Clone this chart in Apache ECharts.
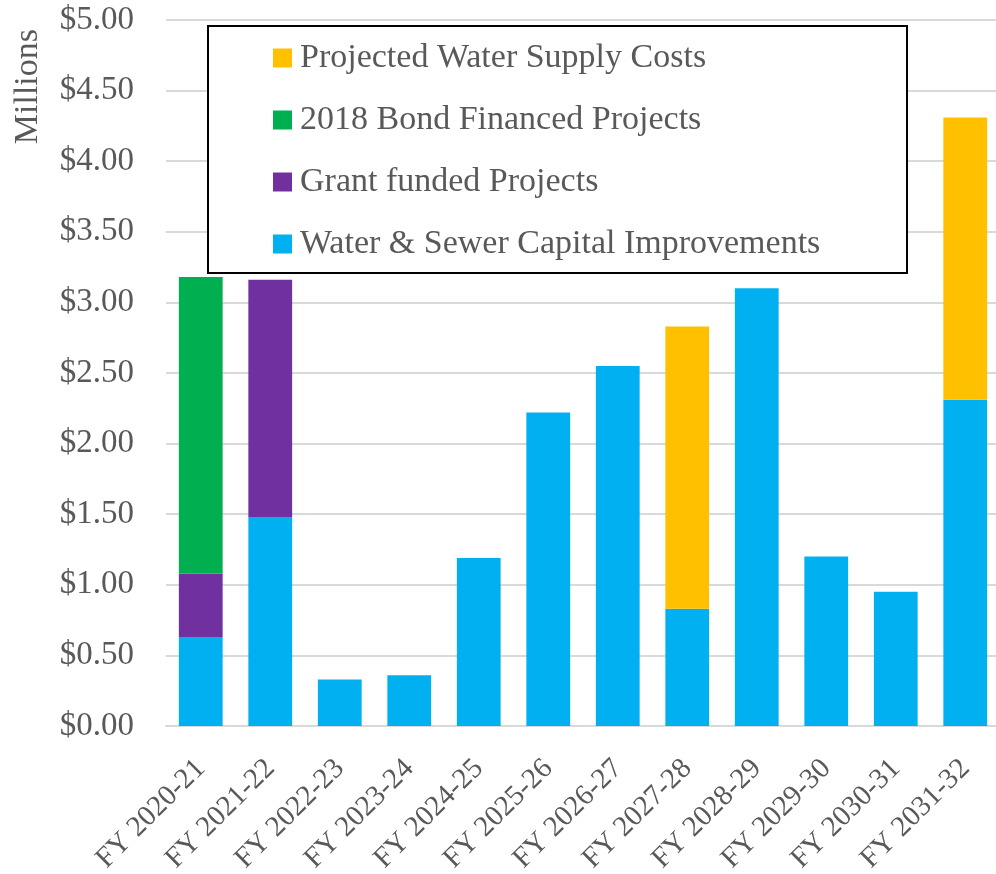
<!DOCTYPE html>
<html>
<head>
<meta charset="utf-8">
<script src="https://cdn.jsdelivr.net/npm/echarts@6/dist/echarts.min.js"></script>
<style>
  html, body { margin: 0; padding: 0; background: #fff; }
  #chart { width: 996px; height: 874px; }
</style>
</head>
<body>
<div id="chart"></div>
<script>
const categories = ['FY 2020-21', 'FY 2021-22', 'FY 2022-23', 'FY 2023-24', 'FY 2024-25', 'FY 2025-26',
  'FY 2026-27', 'FY 2027-28', 'FY 2028-29', 'FY 2029-30', 'FY 2030-31', 'FY 2031-32'];

// values in millions
const waterSewer = [0.63, 1.48, 0.33, 0.36, 1.19, 2.22, 2.55, 0.83, 3.10, 1.20, 0.95, 2.31];
const grantFunded = [0.45, 1.68, 0, 0, 0, 0, 0, 0, 0, 0, 0, 0];
const bondFinanced = [2.10, 0, 0, 0, 0, 0, 0, 0, 0, 0, 0, 0];
const waterSupply = [0, 0, 0, 0, 0, 0, 0, 2.00, 0, 0, 0, 2.00];

const FONT = 'Liberation Serif';
const GREY = '#595959';

const chart = echarts.init(document.getElementById('chart'));

const makeSeries = (name, data, color) => ({
  name: name,
  type: 'bar',
  stack: 'total',
  barWidth: '63%',
  data: data.map(v => (v === 0 ? null : v)),
  itemStyle: { color: color },
  emphasis: { disabled: true }
});

chart.setOption({
  animation: false,
  textStyle: { fontFamily: FONT },
  grid: {
    left: 166,
    top: 20,
    width: 834,
    bottom: 148,
    outerBoundsMode: 'none'
  },
  graphic: [
    {
      type: 'text',
      left: 11,
      top: 29,
      rotation: Math.PI / 2,
      style: {
        text: 'Millions',
        font: '34px "Liberation Serif"',
        fill: GREY
      }
    },
    {
      type: 'rect',
      left: 207,
      top: 25,
      z: 10,
      shape: { width: 699, height: 247 },
      style: { fill: '#fff', stroke: '#000', lineWidth: 2 }
    }
  ],
  legend: {
    orient: 'vertical',
    left: 273,
    top: 41,
    padding: 0,
    z: 20,
    icon: 'rect',
    itemWidth: 19,
    itemHeight: 19,
    itemGap: 28,
    selectedMode: false,
    data: ['Projected Water Supply Costs', '2018 Bond Financed Projects', 'Grant funded Projects',
      'Water & Sewer Capital Improvements'],
    textStyle: {
      fontFamily: FONT,
      fontSize: 34,
      color: GREY,
      padding: [0, 0, 0, 3]
    }
  },
  xAxis: {
    type: 'category',
    data: categories,
    axisLine: { lineStyle: { color: '#D9D9D9', width: 2 } },
    axisTick: { show: false },
    axisLabel: {
      rotate: 45,
      interval: 0,
      margin: 38,
      fontFamily: FONT,
      fontSize: 29,
      color: GREY
    }
  },
  yAxis: {
    type: 'value',
    min: 0,
    max: 5,
    interval: 0.5,
    axisLine: { show: false },
    axisTick: { show: false },
    splitLine: { lineStyle: { color: '#D9D9D9', width: 2 } },
    axisLabel: {
      margin: 32,
      fontFamily: FONT,
      fontSize: 33,
      color: GREY,
      formatter: v => '$' + v.toFixed(2)
    }
  },
  series: [
    makeSeries('Water & Sewer Capital Improvements', waterSewer, '#00B0F0'),
    makeSeries('Grant funded Projects', grantFunded, '#7030A0'),
    makeSeries('2018 Bond Financed Projects', bondFinanced, '#00B050'),
    makeSeries('Projected Water Supply Costs', waterSupply, '#FFC000')
  ]
});
</script>
</body>
</html>
